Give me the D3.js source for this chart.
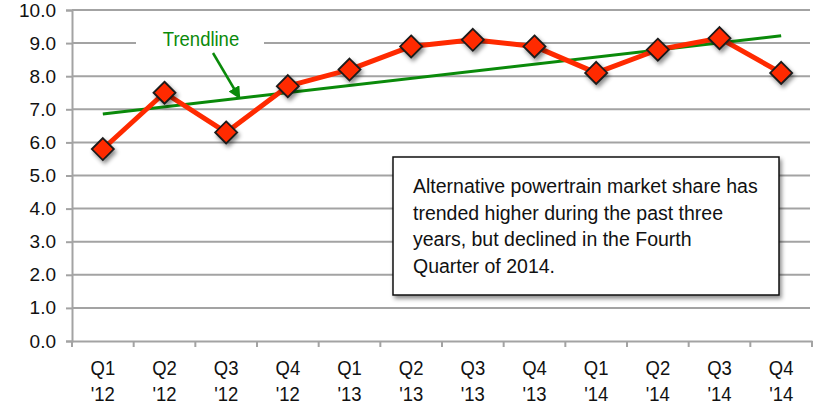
<!DOCTYPE html>
<html>
<head>
<meta charset="utf-8">
<script src="https://cdn.jsdelivr.net/npm/d3@7"></script>
<style>
  body { margin: 0; background: #fff; }
</style>
</head>
<body>
<div id="chart"></div>
<script>
const quarters = ["Q1", "Q2", "Q3", "Q4", "Q1", "Q2", "Q3", "Q4", "Q1", "Q2", "Q3", "Q4"];
const years = ["'12", "'12", "'12", "'12", "'13", "'13", "'13", "'13", "'14", "'14", "'14", "'14"];
const share = [5.8, 7.5, 6.3, 7.7, 8.2, 8.9, 9.1, 8.9, 8.1, 8.8, 9.15, 8.1];
const trend = [6.86, 9.22]; // start, end of trendline
const yTicks = [0, 1, 2, 3, 4, 5, 6, 7, 8, 9, 10];
const note = [
  "Alternative powertrain market share has",
  "trended higher during the past three",
  "years, but declined in the Fourth",
  "Quarter of 2014."
];

const FONT = "'Liberation Sans', Arial, sans-serif";
const W = 815, H = 406;
const margin = { top: 10, right: 3, bottom: 65, left: 72 };
const width = W - margin.left - margin.right,
      height = H - margin.top - margin.bottom;

const svg = d3.select("#chart").append("svg")
  .attr("width", W).attr("height", H)
  .style("font-family", FONT);

const defs = svg.append("defs");
const shadow = defs.append("filter").attr("id", "shadow")
  .attr("x", "-50%").attr("y", "-50%").attr("width", "200%").attr("height", "200%");
shadow.append("feDropShadow").attr("dx", 2).attr("dy", 3).attr("stdDeviation", 2)
  .attr("flood-color", "#000").attr("flood-opacity", 0.45);
defs.append("marker").attr("id", "arrow")
  .attr("viewBox", "0 0 10 10").attr("refX", 8).attr("refY", 5)
  .attr("markerWidth", 5).attr("markerHeight", 5).attr("orient", "auto")
  .append("path").attr("d", "M0,0 L10,5 L0,10 z").attr("fill", "#0a8a0a");

const g = svg.append("g").attr("transform", `translate(${margin.left},${margin.top})`);

const x = d3.scaleBand().domain(d3.range(share.length)).range([0, width]);
const y = d3.scaleLinear().domain([0, 10]).range([height, 0]);
const cx = i => x(i) + x.bandwidth() / 2;

// gridlines
g.append("g").selectAll("line").data(yTicks.slice(1)).join("line")
  .attr("x1", 0).attr("x2", width - 2)
  .attr("y1", d => y(d)).attr("y2", d => y(d))
  .attr("stroke", "#a3a3a3").attr("stroke-width", 2);

// y axis
const yAxis = g.append("g")
  .call(d3.axisLeft(y).tickValues(yTicks).tickFormat(d3.format(".1f")).tickSize(6).tickPadding(10));
yAxis.select(".domain").attr("stroke", "#a3a3a3").attr("stroke-width", 2);
yAxis.selectAll(".tick line").attr("stroke", "#a3a3a3").attr("stroke-width", 2);
yAxis.selectAll("text").attr("font-size", 19).attr("fill", "#111").style("font-family", FONT);

// x axis
const xAxis = g.append("g").attr("transform", `translate(0,${height})`)
  .call(d3.axisBottom(x).tickSize(0).tickFormat(""));
xAxis.select(".domain").attr("stroke", "#a3a3a3").attr("stroke-width", 2);
xAxis.selectAll(".tick").remove();
g.append("g").selectAll("line").data(d3.range(share.length + 1)).join("line")
  .attr("x1", d => d * x.step()).attr("x2", d => d * x.step())
  .attr("y1", height).attr("y2", height + 6)
  .attr("stroke", "#a3a3a3").attr("stroke-width", 2);

const xl = g.append("g").selectAll("g").data(quarters).join("g")
  .attr("transform", (d, i) => `translate(${cx(i)},${height + 34}) scale(0.88,1)`)
  .append("text")
  .attr("text-anchor", "middle").attr("font-size", 21).attr("fill", "#111");
xl.append("tspan").attr("x", 0).text(d => d);
xl.append("tspan").attr("x", 0).attr("dy", 26).text((d, i) => years[i]);

// trend label with white background, arrow
g.append("rect").attr("x", 64).attr("y", y(9) - 12).attr("width", 128).attr("height", 24).attr("fill", "#fff");
g.append("text")
  .attr("transform", `translate(129,${y(9) + 3}) scale(0.88,1)`)
  .attr("text-anchor", "middle")
  .attr("font-size", 21).attr("fill", "#0a8a0a").text("Trendline");
g.append("line").attr("x1", 141).attr("y1", 43).attr("x2", 167).attr("y2", 87)
  .attr("stroke", "#0a8a0a").attr("stroke-width", 2.5).attr("marker-end", "url(#arrow)");

// trend line
g.append("line")
  .attr("x1", cx(0)).attr("y1", y(trend[0]))
  .attr("x2", cx(share.length - 1)).attr("y2", y(trend[1]))
  .attr("stroke", "#0a8a0a").attr("stroke-width", 3);

// data line
g.append("path").datum(share)
  .attr("fill", "none").attr("stroke", "#ff2a00").attr("stroke-width", 5)
  .attr("stroke-linejoin", "round")
  .attr("d", d3.line().x((d, i) => cx(i)).y(d => y(d)));

// diamond markers
g.append("g").selectAll("path").data(share).join("path")
  .attr("transform", (d, i) => `translate(${cx(i)},${y(d)})`)
  .attr("d", "M0,-11 L11,0 L0,11 L-11,0 Z")
  .attr("fill", "#ff2a00").attr("stroke", "#1a1a1a").attr("stroke-width", 1.8)
  .attr("filter", "url(#shadow)");

// note box
const bx = 393 - margin.left, by = 157 - margin.top;
g.append("rect").attr("x", bx).attr("y", by).attr("width", 386).attr("height", 138)
  .attr("fill", "#fff").attr("stroke", "#111").attr("stroke-width", 1.5)
  .attr("filter", "url(#shadow)");
g.append("g").selectAll("text").data(note).join("text")
  .attr("x", bx + 20).attr("y", (d, i) => by + 36 + i * 26.7)
  .attr("font-size", 19.5).attr("fill", "#111").text(d => d);
</script>
</body>
</html>
